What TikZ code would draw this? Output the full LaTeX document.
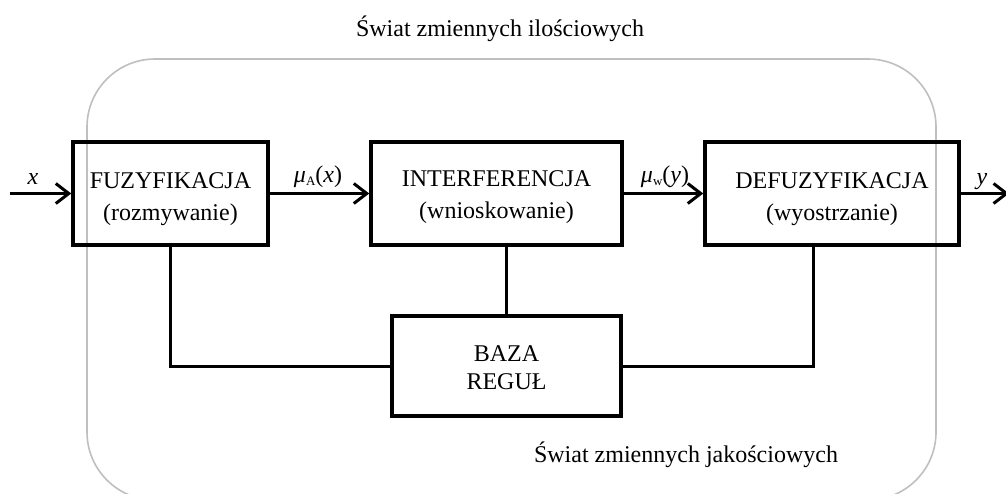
\documentclass[tikz,border=0pt]{standalone}
\usepackage{fontspec}
\setmainfont{Liberation Serif}
\usetikzlibrary{arrows.meta}
\definecolor{framegray}{RGB}{191,191,191}
\newcommand\lowsub[1]{\raisebox{-3pt}{\fontsize{13}{13}\selectfont #1}}
\begin{document}
\begin{tikzpicture}[x=1pt,y=-1pt]
\tikzset{
  blk/.style={draw=black, line width=3.5pt, minimum height=103pt, inner sep=0pt},
  txt/.style={font=\fontsize{24}{32}\selectfont, align=center, inner sep=0pt},
  wire/.style={line width=3pt},
  sig/.style={line width=3pt, -{Straight Barb[length=13pt,width=20pt,line width=3pt]}},
  frame/.style={draw=framegray, line width=1.6pt, rounded corners=68pt},
  lbl/.style={font=\fontsize{24}{28}\selectfont, inner sep=0pt}
}
\useasboundingbox (0,0) rectangle (1006,493);
\clip (0,0) rectangle (1006,493);

% outer frame separating the two worlds
\draw[frame] (87,59) rectangle (936,500);
\node[lbl] (topworld) at (500,29) {Świat zmiennych ilościowych};
\node[lbl] (botworld) at (686,455) {Świat zmiennych jakościowych};

% processing blocks
\node[blk, minimum width=195pt] (fuz) at (170.5,193.5) {};
\node[txt] (fuzt) at (170.5,199) {FUZYFIKACJA\\(rozmywanie)};
\node[blk, minimum width=251pt] (interf) at (496.5,193.5) {};
\node[txt] (interft) at (496.5,197) {INTERFERENCJA\\(wnioskowanie)};
\node[blk, minimum width=254pt] (defuz) at (832,193.5) {};
\node[txt] (defuzt) at (832,199) {DEFUZYFIKACJA\\(wyostrzanie)};
\node[blk, minimum width=229pt, minimum height=100pt] (baza) at (506.5,366) {};
\node[txt, font=\fontsize{24}{28}\selectfont] (bazat) at (506.5,368) {BAZA\\REGUŁ};

% signal flow
\coordinate (xin) at (10,193.5);
\coordinate (yout) at (1009,193.5);
\draw[sig] (xin) -- (fuz);
\draw[sig] (fuz) -- (interf);
\draw[sig] (interf) -- (defuz);
\draw[sig] (defuz) -- (yout);

\node[lbl] (lx) at (33,179) {\textit{x}};
\node[lbl] (lmua) at (318,177) {\textit{μ}\lowsub{A}(\textit{x})};
\node[lbl] (lmuw) at (665,177) {\textit{μ}\lowsub{w}(\textit{y})};
\node[lbl] (ly) at (982,182) {\textit{y}};

% links to the rule base
\draw[wire] (fuz.south) |- (baza.west);
\draw[wire] (baza.north) -- (baza.north |- interf.south);
\draw[wire] ([xshift=-19pt]defuz.south) |- (baza.east);
\end{tikzpicture}
\end{document}
